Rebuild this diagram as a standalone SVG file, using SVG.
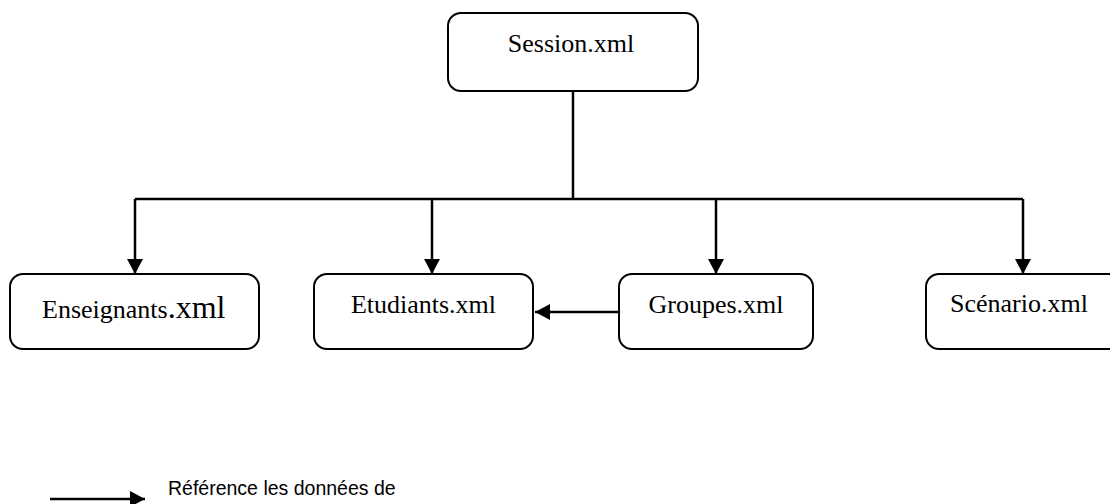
<svg xmlns="http://www.w3.org/2000/svg" width="1110" height="504" viewBox="0 0 1110 504">
<style>
.box{fill:#fff;stroke:#000;stroke-width:2}
.lbl{font-family:"Liberation Serif","Times New Roman",serif;font-size:26px;fill:#000}
.ln{fill:none;stroke:#000;stroke-width:2.5}
.leg{font-family:"Liberation Sans",Arial,sans-serif;font-size:19.5px;fill:#000}
</style>
<defs>
<marker id="ah" markerUnits="userSpaceOnUse" markerWidth="16" markerHeight="16" refX="15" refY="8" orient="auto">
<path d="M0,0 L15,8 L0,16 Z" fill="#000"/>
</marker>
</defs>
<rect width="1110" height="504" fill="#fff"/>
<g id="connectors">
<polyline class="ln" points="573,91 573,199"/>
<polyline class="ln" points="135,199 1023,199"/>
<line class="ln" x1="135" y1="199" x2="135" y2="274" marker-end="url(#ah)"/>
<line class="ln" x1="432" y1="199" x2="432" y2="274" marker-end="url(#ah)"/>
<line class="ln" x1="716" y1="199" x2="716" y2="274" marker-end="url(#ah)"/>
<line class="ln" x1="1023" y1="199" x2="1023" y2="274" marker-end="url(#ah)"/>
<line class="ln" x1="619" y1="312" x2="535" y2="312" marker-end="url(#ah)"/>
</g>
<g id="session">
<rect class="box" x="448" y="13" width="250" height="78" rx="13"/>
<text class="lbl" x="571" y="52" text-anchor="middle">Session.xml</text>
</g>
<g id="enseignants">
<rect class="box" x="10" y="274" width="249" height="75" rx="13"/>
<text class="lbl" x="42" y="318">Enseignants<tspan font-size="32">.xml</tspan></text>
</g>
<g id="etudiants">
<rect class="box" x="314" y="274" width="219" height="75" rx="13"/>
<text class="lbl" x="423.5" y="313" text-anchor="middle">Etudiants.xml</text>
</g>
<g id="groupes">
<rect class="box" x="619" y="274" width="194" height="75" rx="13"/>
<text class="lbl" x="716" y="313" text-anchor="middle">Groupes.xml</text>
</g>
<g id="scenario">
<rect class="box" x="926" y="274" width="200" height="75" rx="13"/>
<text class="lbl" x="950" y="312">Scénario.xml</text>
</g>
<g id="legend">
<line class="ln" x1="50" y1="499" x2="145" y2="499" marker-end="url(#ah)"/>
<text class="leg" x="168" y="495">Référence les données de</text>
</g>
</svg>
